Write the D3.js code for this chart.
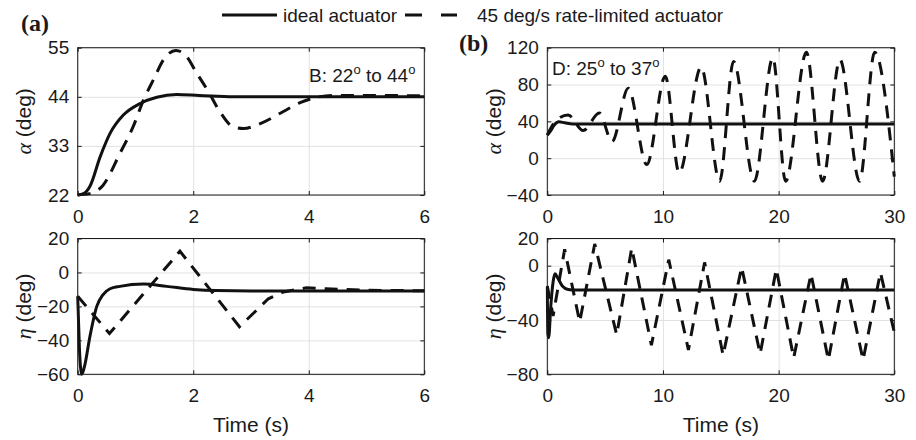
<!DOCTYPE html>
<html><head><meta charset="utf-8">
<script src="https://cdn.jsdelivr.net/npm/d3@7"></script>
<style>body{margin:0;background:#fff} svg{display:block}</style>
</head><body>
<svg id="chart" width="916" height="440"></svg>
<script>
// ---------- DATA ----------
const seriesNames = ["ideal actuator", "45 deg/s rate-limited actuator"];

const xTicksA = [0, 2, 4, 6];
const xTicksB = [0, 10, 20, 30];
const yTicksAlphaA = [22, 33, 44, 55];
const yTicksEtaA = [-60, -40, -20, 0, 20];
const yTicksAlphaB = [-40, 0, 40, 80, 120];
const yTicksEtaB = [-80, -40, 0, 20];

// Panel (a) – case B: 22° to 44°   [time (s), value (deg)]
const alphaA_ideal = [[0,22],[0.1,22.3],[0.21,23.9],[0.39,30.6],[0.56,35.8],[0.79,39.9],[1.08,42.5],[1.37,43.9],[1.71,44.5],[2.1,44.3],[2.7,44.0],[6,44.0]];
const alphaA_rate = [[0,22],[0.2,22.3],[0.44,24.2],[0.73,31.3],[0.96,37.3],[1.14,43.3],[1.31,47.8],[1.5,52.6],[1.7,54.4],[1.86,53.4],[2.06,49.3],[2.26,45.2],[2.46,40.7],[2.69,37.3],[2.87,36.9],[3.16,38],[3.56,40.7],[3.85,42.7],[4.08,43.7],[4.43,44.3],[5,44.3],[6,44.2]];
const etaA_ideal = [[0,-14],[0.03,-45],[0.07,-60],[0.12,-55],[0.21,-38],[0.33,-20],[0.44,-13],[0.56,-9.6],[0.73,-8.2],[1.14,-6.8],[1.54,-8.2],[2.0,-10],[2.4,-10.7],[3,-10.9],[6,-10.9]];
const etaA_rate = [[0,-14],[0.55,-36],[1.77,12.5],[2.8,-32],[3.3,-15.5],[3.56,-11.5],[3.96,-9],[4.3,-9.6],[5,-10.5],[6,-10.8]];

// Panel (b) – case D: 25° to 37°
const alphaB_ideal = [[0,25],[0.3,30],[0.6,36],[1.0,39.5],[1.5,38.5],[2.2,37.2],[30,37.2]];
const alphaB_rate = [[0,25],[0.7,40],[1.8,47],[3.1,30],[4.5,49],[5.6,18],[7.0,76],[8.6,-7],[10.2,89],[11.4,-16],[13.3,99],[14.9,-25],[16.1,105],[17.9,-25],[19.5,109],[20.6,-25],[22.4,115],[23.8,-25],[25.3,107],[27.0,-25],[28.3,115],[30,-20]];
const etaB_ideal = [[0,-15.6],[0.05,-50],[0.12,-53],[0.3,-30],[0.5,-12],[0.67,-6],[0.9,-9],[1.3,-15],[1.8,-17.5],[2.5,-18],[30,-18]];
const etaB_rate = [[0,-15],[0.5,-37],[1.5,12],[2.8,-41.5],[4.1,16],[6.0,-51],[7.3,13],[9.0,-58.5],[10.5,4.4],[12.2,-62],[13.6,2.4],[15.2,-66],[16.8,-1],[18.4,-65],[19.8,-2.4],[21.3,-68],[22.8,-6],[24.3,-69.5],[25.7,-6],[27.3,-69.5],[28.8,-5],[30,-49]];

// ---------- DRAW ----------
const svg = d3.select("#chart");
const SANS = "'Liberation Sans', Arial, Helvetica, sans-serif";
const SERIF = "'Liberation Serif', 'Times New Roman', serif";
const INK = "#111";

const panels = [
  {x0:77.7, x1:424.3, y0:47.7, y1:195, xd:[0,6], yd:[22,55], xt:xTicksA, yt:yTicksAlphaA, sym:"α", s1:alphaA_ideal, s2:alphaA_rate, c2:"smooth", note:["B: 22","o"," to 44","o"], noteX:309, noteY:82},
  {x0:77.7, x1:424.3, y0:238.5, y1:374.3, xd:[0,6], yd:[-60,20], xt:xTicksA, yt:yTicksEtaA, sym:"η", s1:etaA_ideal, s2:etaA_rate, c2:"linear", xlabel:true},
  {x0:547.3, x1:894.3, y0:47.7, y1:195, xd:[0,30], yd:[-40,120], xt:xTicksB, yt:yTicksAlphaB, sym:"α", s1:alphaB_ideal, s2:alphaB_rate, c2:"smooth", note:["D: 25","o"," to 37","o"], noteX:552, noteY:75},
  {x0:547.3, x1:894.3, y0:238.5, y1:374.3, xd:[0,30], yd:[-80,20], xt:xTicksB, yt:yTicksEtaB, sym:"η", s1:etaB_ideal, s2:etaB_rate, c2:"linear", xlabel:true}
];

panels.forEach((p, i) => {
  const w = p.x1 - p.x0, h = p.y1 - p.y0;
  const g = svg.append("g").attr("transform", `translate(${p.x0},${p.y0})`);
  const x = d3.scaleLinear().domain(p.xd).range([0, w]);
  const y = d3.scaleLinear().domain(p.yd).range([h, 0]);

  // grid
  const gx = g.append("g").attr("transform", `translate(0,${h})`)
    .call(d3.axisBottom(x).tickValues(p.xt).tickSize(-h).tickFormat(""));
  const gy = g.append("g").call(d3.axisLeft(y).tickValues(p.yt).tickSize(-w).tickFormat(""));
  [gx, gy].forEach(a => { a.select(".domain").remove(); a.selectAll("line").attr("stroke", "#e2e2e2").attr("stroke-width", 1); });

  // clip
  const cid = "clip" + i;
  g.append("clipPath").attr("id", cid).append("rect").attr("x", -2).attr("y", -2).attr("width", w + 4).attr("height", h + 4);

  // lines
  const lineSmooth = d3.line().x(d => x(d[0])).y(d => y(d[1])).curve(d3.curveMonotoneX);
  const lineLin = d3.line().x(d => x(d[0])).y(d => y(d[1]));
  g.append("path").attr("d", (p.c2 === "linear" ? lineLin : lineSmooth)(p.s2))
    .attr("fill", "none").attr("stroke", INK).attr("stroke-width", 3)
    .attr("stroke-dasharray", "13,9").attr("clip-path", `url(#${cid})`);
  g.append("path").attr("d", lineSmooth(p.s1))
    .attr("fill", "none").attr("stroke", INK).attr("stroke-width", 3)
    .attr("clip-path", `url(#${cid})`);

  // frame
  g.append("rect").attr("width", w).attr("height", h).attr("fill", "none").attr("stroke", "#1a1a1a").attr("stroke-width", 1);

  // axes with inward ticks
  const axL = g.append("g").call(d3.axisLeft(y).tickValues(p.yt).tickSize(-4).tickPadding(8.5).tickFormat(d3.format("d")));
  const axR = g.append("g").attr("transform", `translate(${w},0)`).call(d3.axisRight(y).tickValues(p.yt).tickSize(-4).tickFormat(""));
  const axB = g.append("g").attr("transform", `translate(0,${h})`).call(d3.axisBottom(x).tickValues(p.xt).tickSize(-4).tickPadding(14).tickFormat(d3.format("d")));
  const axT = g.append("g").call(d3.axisTop(x).tickValues(p.xt).tickSize(-4).tickFormat(""));
  [axL, axR, axB, axT].forEach(a => {
    a.select(".domain").remove();
    a.selectAll("line").attr("stroke", "#1a1a1a");
    a.selectAll("text").attr("fill", "#1a1a1a").style("font-family", SANS).style("font-size", "19px");
  });
  axB.selectAll("text").attr("dy", null).attr("y", 28).style("dominant-baseline", "auto");

  // y label
  const yl = svg.append("text")
    .attr("transform", `translate(${i < 2 ? 25 : 495},${(p.y0 + p.y1) / 2}) rotate(-90)`)
    .attr("text-anchor", "middle").attr("dy", "0.35em").attr("fill", "#1a1a1a");
  yl.append("tspan").text(p.sym).style("font-family", SERIF).style("font-style", "italic").style("font-size", "22px");
  yl.append("tspan").text(" (deg)").style("font-family", SANS).style("font-size", "21px");

  // x label
  if (p.xlabel) {
    svg.append("text").attr("x", (p.x0 + p.x1) / 2).attr("y", 432).attr("text-anchor", "middle")
      .attr("fill", "#1a1a1a").style("font-family", SANS).style("font-size", "21px").text("Time (s)");
  }

  // annotation
  if (p.note) {
    const t = svg.append("text").attr("x", p.noteX).attr("y", p.noteY).attr("fill", "#1a1a1a")
      .style("font-family", SANS).style("font-size", "19px");
    t.append("tspan").text(p.note[0]);
    t.append("tspan").text(p.note[1]).attr("dy", -8).style("font-size", "13px");
    t.append("tspan").text(p.note[2]).attr("dy", 8);
    t.append("tspan").text(p.note[3]).attr("dy", -8).style("font-size", "13px");
  }
});

// panel letters
svg.append("text").attr("x", 21).attr("y", 31).text("(a)")
  .style("font-family", SERIF).style("font-weight", "bold").style("font-size", "24px").attr("fill", "#1a1a1a");
svg.append("text").attr("x", 459).attr("y", 51).text("(b)")
  .style("font-family", SERIF).style("font-weight", "bold").style("font-size", "24px").attr("fill", "#1a1a1a");

// legend
const lg = svg.append("g");
lg.append("line").attr("x1", 222).attr("x2", 277).attr("y1", 15).attr("y2", 15)
  .attr("stroke", INK).attr("stroke-width", 3);
lg.append("text").attr("x", 283).attr("y", 22).text(seriesNames[0])
  .style("font-family", SANS).style("font-size", "19px").attr("fill", "#1a1a1a");
lg.append("line").attr("x1", 405).attr("x2", 457).attr("y1", 15).attr("y2", 15)
  .attr("stroke", INK).attr("stroke-width", 3).attr("stroke-dasharray", "17,19");
lg.append("text").attr("x", 477).attr("y", 22).text(seriesNames[1])
  .style("font-family", SANS).style("font-size", "19px").attr("fill", "#1a1a1a");
</script>
</body></html>
